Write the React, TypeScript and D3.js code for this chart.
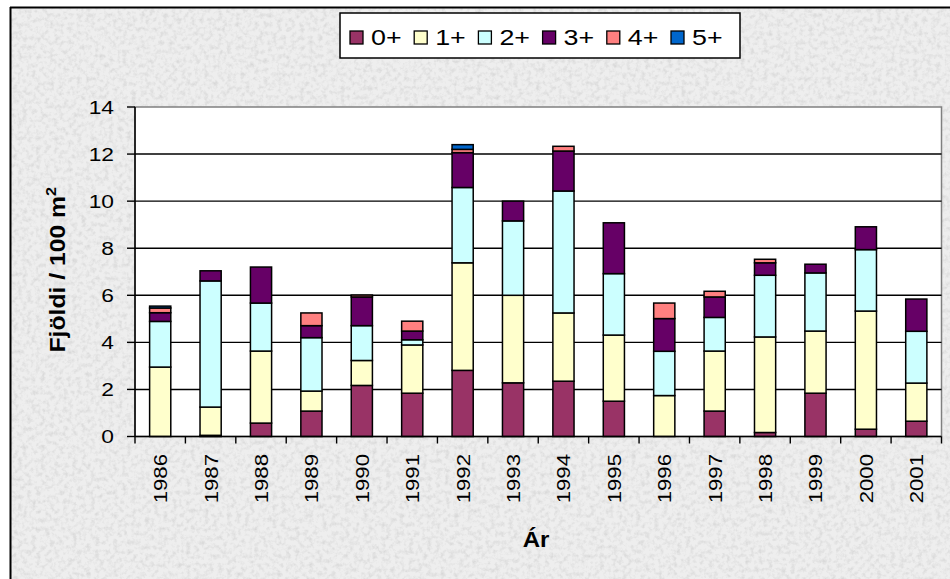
import React from "react";
import * as d3 from "d3";

const years = ["1986","1987","1988","1989","1990","1991","1992","1993","1994","1995","1996","1997","1998","1999","2000","2001"];
const series = ["0+","1+","2+","3+","4+","5+"];
const colors = ["#993366","#FFFFCC","#CCFFFF","#660066","#FF8080","#0066CC"];
const age0 = [0, 0.05, 0.57, 1.08, 2.17, 1.84, 2.81, 2.28, 2.35, 1.5, 0, 1.08, 0.17, 1.84, 0.31, 0.65];
const age1 = [2.95, 1.2, 3.06, 0.85, 1.06, 2.05, 4.57, 3.72, 2.9, 2.81, 1.74, 2.55, 4.06, 2.64, 5.02, 1.62];
const age2 = [1.94, 5.36, 2.04, 2.27, 1.48, 0.22, 3.2, 3.16, 5.18, 2.61, 1.88, 1.43, 2.62, 2.47, 2.61, 2.2];
const age3 = [0.37, 0.43, 1.53, 0.51, 1.22, 0.37, 1.48, 0.84, 1.7, 2.16, 1.39, 0.87, 0.53, 0.37, 0.97, 1.37];
const age4 = [0.2, 0, 0, 0.54, 0.08, 0.42, 0.14, 0, 0.2, 0, 0.66, 0.24, 0.15, 0, 0, 0];
const age5 = [0.08, 0, 0, 0, 0, 0, 0.2, 0, 0, 0, 0, 0, 0, 0, 0, 0];
const yTicks = [0, 2, 4, 6, 8, 10, 12, 14];

export default function App() {
  const W = 950, H = 579;
  const left = 135, right = 941.5, top = 107, bottom = 436.5;
  const rows = years.map((y, i) => ({
    year: y, "0+": age0[i], "1+": age1[i], "2+": age2[i], "3+": age3[i], "4+": age4[i], "5+": age5[i],
  }));
  const stacked = d3.stack<any>().keys(series)(rows);
  const x = d3.scaleBand().domain(years).range([left, right]).paddingInner(0.58).paddingOuter(0.29);
  const y = d3.scaleLinear().domain([0, 14]).range([bottom, top]);
  const step = (right - left) / years.length;
  const font = "Arial, 'Liberation Sans', sans-serif";
  const sx = 1.2;

  return (
    <svg width={W} height={H} style={{ position: "absolute", left: 0, top: 0 }} fontFamily={font}>
      <defs>
        <filter id="grain" x="0" y="0" width="100%" height="100%">
          <feTurbulence type="fractalNoise" baseFrequency="0.22" numOctaves="3" seed="7" result="n" />
          <feColorMatrix type="matrix" values="0 0 0 0 0.6  0 0 0 0 0.6  0 0 0 0 0.6  0 0 0 -2.2 1.25" />
        </filter>
      </defs>
      <rect x={0} y={0} width={W} height={H} fill="#ffffff" />
      <rect x={10} y={7} width={W} height={H} fill="#eeeeee" />
      <rect x={10} y={7} width={W} height={H} filter="url(#grain)" opacity={0.6} />
      <line x1={10} y1={7.5} x2={W} y2={7.5} stroke="#000" strokeWidth={2} />
      <line x1={10.5} y1={7} x2={10.5} y2={H} stroke="#000" strokeWidth={2} />

      {/* plot area */}
      <rect x={left} y={top} width={right - left} height={bottom - top} fill="#fff" stroke="#808080" strokeWidth={1.5} />
      {yTicks.filter(t => t > 0 && t < 14).map(t => (
        <line key={t} x1={left} x2={right} y1={y(t)} y2={y(t)} stroke="#000" strokeWidth={1.4} />
      ))}

      {stacked.map((s, si) => (
        <g key={s.key}>
          {s.map((d, i) => {
            const h = y(d[0]) - y(d[1]);
            if (h <= 0) return null;
            return (
              <rect key={i} x={x(years[i])} y={y(d[1])} width={x.bandwidth()} height={h}
                fill={colors[si]} stroke="#000" strokeWidth={1.5} />
            );
          })}
        </g>
      ))}

      {/* axes */}
      <line x1={left} x2={left} y1={top} y2={bottom} stroke="#000" strokeWidth={1.5} />
      <line x1={left} x2={right} y1={bottom} y2={bottom} stroke="#000" strokeWidth={1.5} />
      {yTicks.map(t => (
        <g key={t}>
          <line x1={left - 8} x2={left} y1={y(t)} y2={y(t)} stroke="#000" strokeWidth={1.4} />
          <text transform={`translate(114,${y(t)}) scale(${sx},1)`} dy="0.35em" textAnchor="end" fontSize={19} fill="#000">{t}</text>
        </g>
      ))}
      {d3.range(years.length + 1).map(i => (
        <line key={i} x1={left + i * step} x2={left + i * step} y1={bottom} y2={bottom + 7} stroke="#000" strokeWidth={1.4} />
      ))}
      {years.map(yr => {
        const cx = (x(yr) as number) + x.bandwidth() / 2;
        return (
          <text key={yr} transform={`translate(${cx + 0.5},${454}) rotate(-90) scale(${sx},1)`} textAnchor="end" dy="0.35em" fontSize={18.5} fill="#000">{yr}</text>
        );
      })}

      <text transform={`translate(536,547) scale(1.12,1)`} textAnchor="middle" fontSize={21.5} fontWeight="bold" fill="#000">Ár</text>
      <text transform={`translate(65,${(top + bottom) / 2 - 2}) rotate(-90) scale(1.15,1)`} textAnchor="middle" fontSize={21.5} fontWeight="bold" fill="#000">
        Fjöldi / 100 m<tspan dy={-9} fontSize={14}>2</tspan>
      </text>

      {/* legend */}
      <rect x={340} y={13} width={400} height={45} fill="#fff" stroke="#000" strokeWidth={1.5} />
      {series.map((s, i) => (
        <g key={s} transform={`translate(${350 + i * 64.2},31)`}>
          <rect x={0} y={0} width={13} height={13} fill={colors[i]} stroke="#000" strokeWidth={1.3} />
          <text transform={`translate(21,6.5) scale(1.22,1)`} dy="0.36em" fontSize={22} fill="#000">{s}</text>
        </g>
      ))}
    </svg>
  );
}
